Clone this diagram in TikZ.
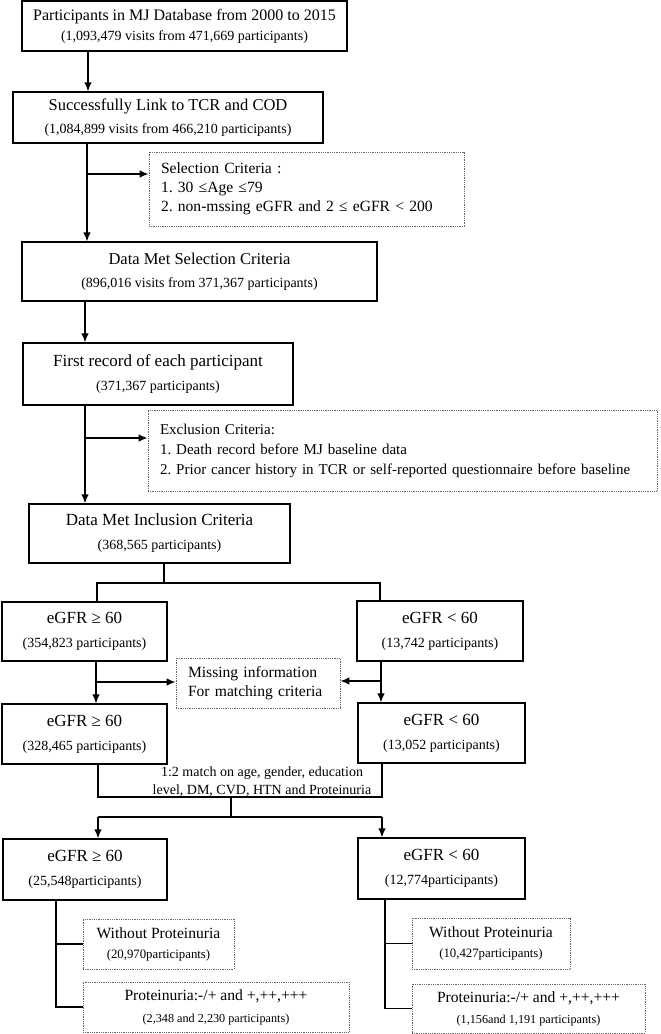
\documentclass[tikz,border=0pt]{standalone}
\usepackage{fontspec}
\setmainfont{Liberation Serif}
\usetikzlibrary{arrows.meta,calc}
\newcommand\fone{\fontsize{16}{19}\selectfont}
\newcommand\fttl{\fontsize{16.5}{20}\selectfont}
\newcommand\fbig{\fontsize{17}{20}\selectfont}
\newcommand\fsub{\fontsize{14}{17}\selectfont}
\newcommand\fsel{\fontsize{15.6}{19}\selectfont}
\newcommand\fexc{\fontsize{15}{20}\selectfont}
\newcommand\fbot{\fontsize{15.6}{18}\selectfont}
\newcommand\fsml{\fontsize{12.8}{15}\selectfont}
\newcommand\fsmr{\fontsize{12.2}{15}\selectfont}
\tikzset{
  box/.style={draw, line width=1.1pt, inner sep=0pt, align=center},
  dbox/.style={draw=black!60, densely dotted, line width=0.8pt, inner sep=0pt, align=center},
  conn/.style={line width=1.4pt},
  arr/.style={conn, -{Latex[length=9pt,width=7.5pt]}},
}
\begin{document}
\frenchspacing
\hyphenpenalty=10000
\begin{tikzpicture}[x=1pt,y=1pt]
\useasboundingbox (0,0) rectangle (661,-1034);
% main column
\node[box, font=\fone, minimum width=325pt, minimum height=50pt] (b1) at (184.5,-26)
  {Participants in MJ Database from 2000 to 2015\\[1pt]\fsub (1,093,479 visits from 471,669 participants)};
\node[box, font=\fttl, minimum width=310pt, minimum height=51pt] (b2) at (168,-117.5)
  {Successfully Link to TCR and COD\\[3pt]\fsub (1,084,899 visits from 466,210 participants)};
\node[dbox, font=\fsel, minimum width=315pt, minimum height=74pt, text width=291pt, align=left] (sel) at (306.5,-189)
  {Selection Criteria :\\ 1. 30 ≤Age ≤79\\ 2. non-mssing eGFR and 2 ≤ eGFR < 200};
\node[box, font=\fttl, minimum width=355pt, minimum height=59pt] (b3) at (199.5,-271.5)
  {Data Met Selection Criteria\\[3pt]\fsub (896,016 visits from 371,367 participants)};
\node[box, font=\fbig, minimum width=270pt, minimum height=62pt] (b4) at (158,-374)
  {First record of each participant\\[4pt]\fsub (371,367 participants)};
\node[dbox, font=\fexc, minimum width=509pt, minimum height=81pt, text width=485pt, align=left] (exc) at (402.5,-450.5)
  {Exclusion Criteria:\\ 1. Death record before MJ baseline data\\ 2. Prior cancer history in TCR or self-reported questionnaire before baseline};
\node[box, font=\fbig, minimum width=261pt, minimum height=59pt] (b5) at (159.5,-533.5)
  {Data Met Inclusion Criteria\\[4pt]\fsub (368,565 participants)};
% eGFR split
\node[box, font=\fbig, minimum width=165pt, minimum height=59pt] (a1) at (84.5,-631.5)
  {eGFR ≥ 60\\[4pt]\fsub (354,823 participants)};
\node[box, font=\fbig, minimum width=166pt, minimum height=60pt] (r1) at (440,-631)
  {eGFR < 60\\[4pt]\fsub (13,742 participants)};
\node[dbox, font=\fsel, minimum width=164pt, minimum height=50pt, text width=140pt, align=left] (mis) at (258,-683)
  {Missing information\\ For matching criteria};
\node[box, font=\fbig, minimum width=165pt, minimum height=60pt] (a2) at (84.5,-734)
  {eGFR ≥ 60\\[4pt]\fsub (328,465 participants)};
\node[box, font=\fbig, minimum width=167pt, minimum height=60pt] (r2) at (441.5,-733)
  {eGFR < 60\\[4pt]\fsub (13,052 participants)};
\node[font=\fsub, align=center, inner sep=0pt] (mt) at (262,-782)
  {1:2 match on age, gender, education\\[1pt] level, DM, CVD, HTN and Proteinuria};
% matched groups
\node[box, font=\fbig, minimum width=164pt, minimum height=61pt] (a3) at (85,-869.5)
  {eGFR ≥ 60\\[4pt]\fsub (25,548participants)};
\node[box, font=\fbig, minimum width=167pt, minimum height=61pt] (r3) at (441.5,-868.5)
  {eGFR < 60\\[4pt]\fsub (12,774participants)};
\node[dbox, font=\fbot, minimum width=151pt, minimum height=50pt] (c1) at (158.5,-944)
  {Without Proteinuria\\[2pt]\fsml (20,970participants)};
\node[dbox, font=\fbot, minimum width=266pt, minimum height=50pt] (d1) at (216,-1007)
  {Proteinuria:-/+ and +,++,+++\\[4pt]\fsmr (2,348 and 2,230 participants)};
\node[dbox, font=\fbot, minimum width=158pt, minimum height=51pt] (c2) at (491,-943.5)
  {Without Proteinuria\\[2pt]\fsml (10,427participants)};
\node[dbox, font=\fbot, minimum width=233pt, minimum height=49pt] (d2) at (528.5,-1008.5)
  {Proteinuria:-/+ and +,++,+++\\[3pt]\fsmr (1,156and 1,191 participants)};
% helper coordinates
\coordinate (x1) at (88,0);
\coordinate (x2) at (87,0);
\coordinate (x3) at (85,0);
\coordinate (j1) at (87,-174);
\coordinate (j2) at (85,-438);
\coordinate (s1) at (164,-583);
\coordinate (xl) at (97,0);
\coordinate (xr) at (380,0);
\coordinate (xl2) at (96,0);
\coordinate (xr2) at (381,0);
\coordinate (j3) at (96,-682);
\coordinate (j4) at (381,-681);
\coordinate (xl3) at (98,0);
\coordinate (xr3) at (382,0);
\coordinate (br) at (0,-797);
\coordinate (bm) at (231,-797);
\coordinate (sp) at (231,-817);
\coordinate (xl4) at (56,0);
\coordinate (xr4) at (385,0);
% connectors
\draw[arr] (x1 |- b1.south) -- (x1 |- b2.north);
\draw[arr] (x2 |- b2.south) -- (x2 |- b3.north);
\draw[arr] (j1) -- (j1 -| sel.west);
\draw[arr] (x3 |- b3.south) -- (x3 |- b4.north);
\draw[arr] (x3 |- b4.south) -- (x3 |- b5.north);
\draw[arr] (j2) -- (j2 -| exc.west);
\draw[conn] (s1 |- b5.south) -- (s1);
\draw[conn] (xl |- a1.north) -- (xl |- s1) -- (xr |- s1) -- (xr |- r1.north);
\draw[arr] (xl2 |- a1.south) -- (xl2 |- a2.north);
\draw[arr] (j3) -- (j3 -| mis.west);
\draw[arr] (xr2 |- r1.south) -- (xr2 |- r2.north);
\draw[arr] (j4) -- (j4 -| mis.east);
\draw[conn] (xl3 |- a2.south) -- (xl3 |- br) -- (xr3 |- br) -- (xr3 |- r2.south);
\draw[conn] (bm) -- (sp);
\draw[arr] (xl3 |- sp) -- (xl3 |- a3.north);
\draw[arr] (xr3 |- sp) -- (xr3 |- r3.north);
\draw[conn] (xl3 |- sp) -- (xr3 |- sp);
\draw[conn] (xl4 |- a3.south) -- (xl4 |- d1.west) -- (d1.west);
\draw[conn] (xl4 |- c1.west) -- (c1.west);
\draw[conn] (xr4 |- r3.south) -- (xr4 |- d2.west) -- (d2.west);
\draw[conn] (xr4 |- c2.west) -- (c2.west);
\end{tikzpicture}
\end{document}
